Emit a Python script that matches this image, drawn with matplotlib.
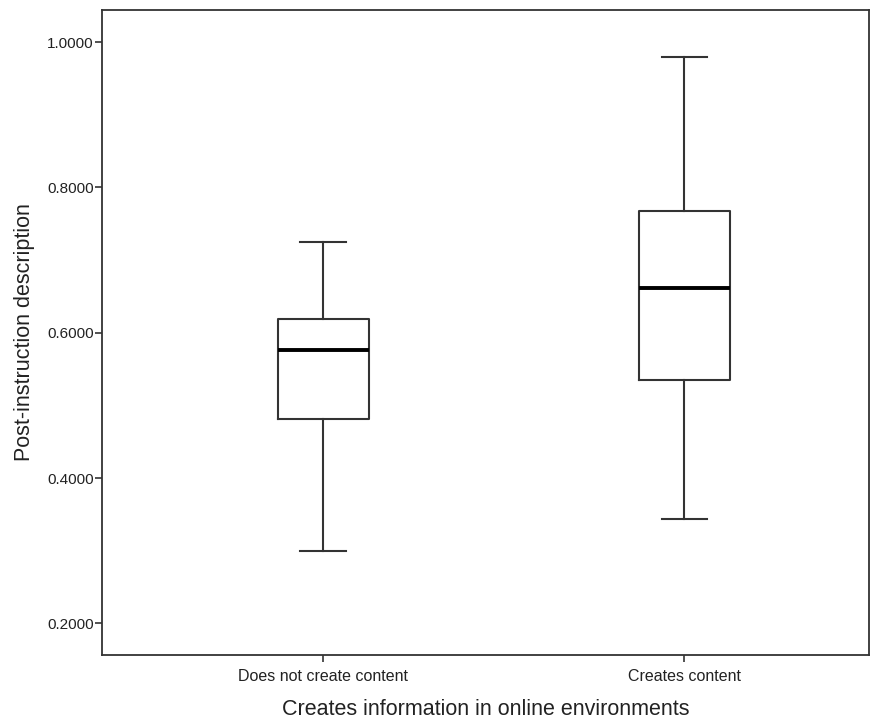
import matplotlib
matplotlib.use('Agg')
import matplotlib.pyplot as plt
from matplotlib import font_manager

# values (SPSS-style boxplot)
groups = ['Does not create content', 'Creates content']
whisker_low = [0.300, 0.344]
q1 = [0.481, 0.535]
median = [0.577, 0.662]
q3 = [0.619, 0.767]
whisker_high = [0.725, 0.980]
yticks = [0.2, 0.4, 0.6, 0.8, 1.0]

names = {f.name for f in font_manager.fontManager.ttflist}
narrow = 'Liberation Sans Narrow' if 'Liberation Sans Narrow' in names else 'Liberation Sans'
plt.rcParams['font.family'] = ['Liberation Sans', 'DejaVu Sans']

fig = plt.figure(figsize=(8.94, 7.19), dpi=100)
ax = fig.add_axes([0.1141, 0.089, 0.858, 0.897])

stats = []
for i, g in enumerate(groups):
    stats.append({
        'label': g,
        'whislo': whisker_low[i],
        'q1': q1[i],
        'med': median[i],
        'q3': q3[i],
        'whishi': whisker_high[i],
        'fliers': [],
    })

edge = '#333333'
ax.bxp(stats, positions=[1, 2], widths=0.252, showfliers=False,
       boxprops=dict(color=edge, linewidth=1.5),
       whiskerprops=dict(color=edge, linewidth=1.5),
       capprops=dict(color=edge, linewidth=1.5),
       medianprops=dict(color='black', linewidth=2.8),
       capwidths=0.125)

ax.set_xlim(0.388, 2.512)
ax.set_ylim(0.1565, 1.0442)
ax.set_yticks(yticks)
ax.set_yticklabels([f'{v:.4f}' for v in yticks], fontsize=11, color='#222222')
ax.set_xticks([1, 2])
ax.set_xticklabels(groups, fontsize=11.5, family=[narrow, 'DejaVu Sans'], color='#222222')
ax.tick_params(axis='both', direction='out', length=5, width=1.2, color=edge)
ax.tick_params(axis='y', pad=1)
ax.tick_params(axis='x', pad=5)

for s in ax.spines.values():
    s.set_color(edge)
    s.set_linewidth(1.3)

ax.set_ylabel('Post-instruction description', fontsize=15.5, family=[narrow, 'DejaVu Sans'],
              color='#222222', labelpad=9)
ax.set_xlabel('Creates information in online environments', fontsize=15.5,
              family=[narrow, 'DejaVu Sans'], color='#222222', labelpad=11)

fig.savefig('out.png', dpi=100)
